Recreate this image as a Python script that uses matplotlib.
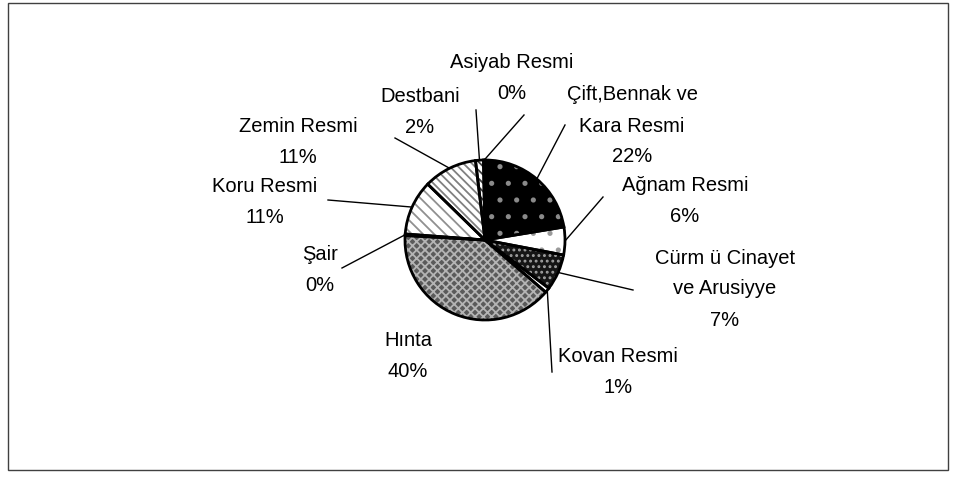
import matplotlib
matplotlib.use("Agg")
import matplotlib.pyplot as plt
from matplotlib.patches import Wedge, Rectangle
import numpy as np

plt.rcParams['font.family'] = ['Liberation Sans', 'DejaVu Sans']
plt.rcParams['hatch.linewidth'] = 1.3

labels = ["Çift,Bennak ve\nKara Resmi", "Ağnam Resmi", "Cürm ü Cinayet\nve Arusiyye",
          "Kovan Resmi", "Hınta", "Şair", "Koru Resmi", "Zemin Resmi", "Destbani",
          "Asiyab Resmi"]
values = [22.4, 5.6, 7.3, 1.0, 39.6, 0.3, 11.1, 10.8, 1.6, 0.3]

# styles: facecolor, hatch, hatch colour
faces = ["black", "white", "#151515", "white", "#5a5a5a", "white", "white", "white", "white", "white"]
hatches = [".", ".", "...", "", "xxxx", "", "\\\\\\", "\\\\\\\\", "\\\\\\\\", ""]
hcolors = ["#8a8a8a", "#9a9a9a", "#a0a0a0", "white", "#b4b4b4", "white", "#909090", "#808080", "#404040", "white"]

# label layout in pixels from top-left
text_pos = [(632, 126), (685, 201), (725, 289), (618, 372), (408, 356),
            (320, 270), (265, 202), (298, 142), (420, 112), (512, 78)]
leader_start = [(565, 125), (603, 197), (633, 290), (552, 372), None,
                (342, 268), (328, 200), (395, 138), (476, 110), (524, 115)]

W, H = 955, 482
fig = plt.figure(figsize=(W / 100, H / 100), dpi=100)
ax = fig.add_axes([0, 0, 1, 1])

cx, cy, R = 485, H - 240, 80
wedges, _ = ax.pie(values, startangle=90, counterclock=False, center=(cx, cy),
                   radius=R, frame=True)
ax.set_xlim(0, W)
ax.set_ylim(0, H)
ax.axis("off")

total = sum(values)
for i, w in enumerate(wedges):
    w.set_facecolor(faces[i])
    w.set_hatch(hatches[i])
    w.set_edgecolor(hcolors[i])
    w.set_linewidth(0)
    ax.add_patch(Wedge((cx, cy), R, w.theta1, w.theta2, fill=False,
                       edgecolor="black", linewidth=2))
    pct = f"{values[i] / total * 100:.0f}%"
    tx, ty = text_pos[i]
    ax.text(tx, H - ty, labels[i] + "\n" + pct, ha="center", va="center",
            fontsize=14.5, linespacing=1.8)
    if leader_start[i] is not None:
        mid = np.deg2rad((w.theta1 + w.theta2) / 2)
        ex, ey = cx + R * np.cos(mid), cy + R * np.sin(mid)
        sx, sy = leader_start[i]
        ax.plot([sx, ex], [H - sy, ey], color="black", linewidth=1)

fig.patches.append(Rectangle((8 / W, 1 - 470 / H), 940 / W, 467 / H,
                             transform=fig.transFigure, fill=False,
                             edgecolor="#404040", linewidth=1))

fig.savefig("out.png", dpi=100)
